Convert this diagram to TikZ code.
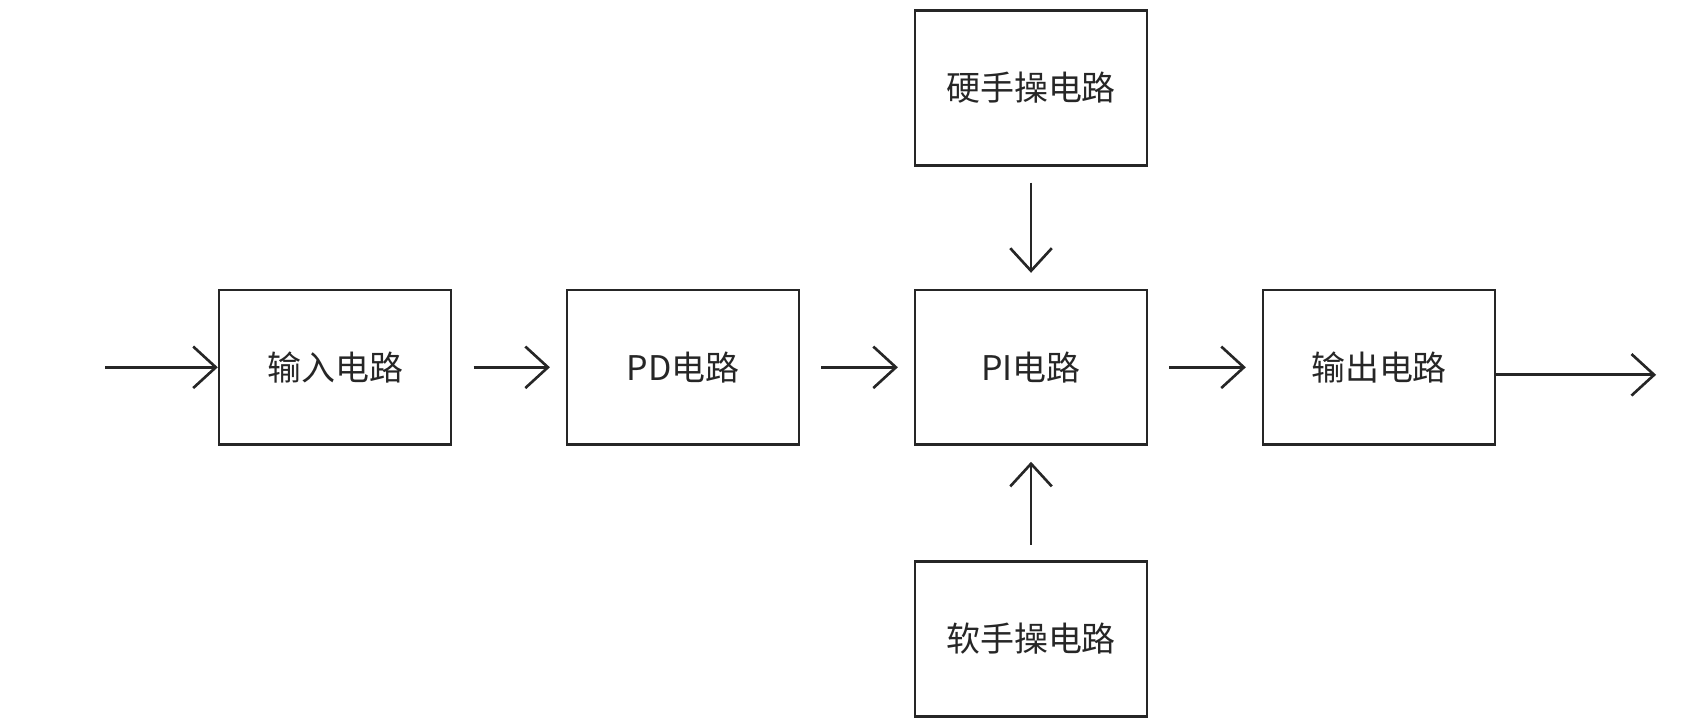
\documentclass[tikz,border=0pt]{standalone}
\usepackage{fontspec}
\setmainfont{Noto Sans CJK SC}
\usetikzlibrary{arrows.meta}
\begin{document}
\begin{tikzpicture}[x=0.02cm,y=-0.02cm,
    blk/.style={draw=black!85,line width=1.4pt,minimum width=4.32cm,minimum height=2.88cm,inner sep=0pt,font=\fontsize{18}{20}\selectfont,text=black!85},
    arr/.style={draw=black!85,line width=1.4pt,-{Straight Barb[length=12pt,width=22pt,line width=1.4pt]}}]
    \useasboundingbox (0,0) rectangle (1568,675);
    % blocks
    \node[blk] (inp) at (312,342) {输入电路};
    \node[blk] (pd) at (636,342) {PD电路};
    \node[blk] (pi) at (960,342) {PI电路};
    \node[blk] (outp) at (1284,342) {输出电路};
    \node[blk] (hard) at (960,82) {硬手操电路};
    \node[blk] (soft) at (960,595) {软手操电路};
    \coordinate (src) at (98,342);
    \coordinate (dst) at (1542,349);
    % arrows
    \draw[arr] (src) -- (inp.west);
    \draw[arr,shorten <=8\pgflinewidth,shorten >=6\pgflinewidth] (inp) -- (pd);
    \draw[arr,shorten <=8\pgflinewidth,shorten >=6\pgflinewidth] (pd) -- (pi);
    \draw[arr,shorten <=8\pgflinewidth,shorten >=6\pgflinewidth] (pi) -- (outp);
    \draw[arr] (outp.east |- dst) -- (dst);
    \draw[arr,shorten <=6\pgflinewidth,shorten >=6\pgflinewidth] (hard) -- (pi);
    \draw[arr,shorten <=6\pgflinewidth,shorten >=6\pgflinewidth] (soft) -- (pi);
\end{tikzpicture}
\end{document}
